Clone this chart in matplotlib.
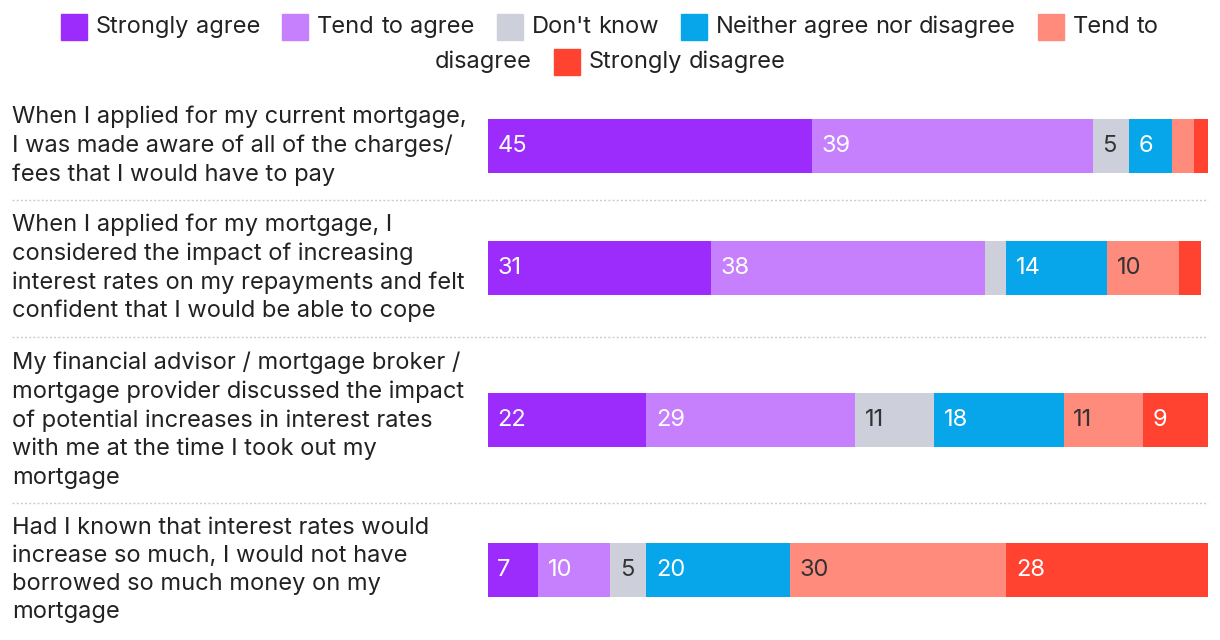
import matplotlib.pyplot as plt
from matplotlib.patches import Rectangle
from matplotlib.lines import Line2D
import numpy as np

plt.rcParams['font.family'] = ['Inter', 'DejaVu Sans']

categories = ['Strongly agree', 'Tend to agree', "Don't know",
              'Neither agree nor disagree', 'Tend to disagree', 'Strongly disagree']
colors = ['#9b2cfb', '#c67ffd', '#cdd0da', '#07a6eb', '#ff8b7d', '#ff4330']
text_colors = ['white', 'white', '#333333', 'white', '#333333', 'white']

statements = [
    'When I applied for my current mortgage,\nI was made aware of all of the charges/\nfees that I would have to pay',
    'When I applied for my mortgage, I\nconsidered the impact of increasing\ninterest rates on my repayments and felt\nconfident that I would be able to cope',
    'My financial advisor / mortgage broker /\nmortgage provider discussed the impact\nof potential increases in interest rates\nwith me at the time I took out my\nmortgage',
    'Had I known that interest rates would\nincrease so much, I would not have\nborrowed so much money on my\nmortgage',
]
strongly_agree = [45, 31, 22, 7]
tend_agree = [39, 38, 29, 10]
dont_know = [5, 3, 11, 5]
neither = [6, 14, 18, 20]
tend_disagree = [3, 10, 11, 30]
strongly_disagree = [2, 3, 9, 28]
values = np.array([strongly_agree, tend_agree, dont_know, neither,
                   tend_disagree, strongly_disagree])

W, H = 1220, 640
fig = plt.figure(figsize=(W / 100, H / 100), dpi=100)
x0, x1 = 488, 1208
ax = fig.add_axes([x0 / W, 0, (x1 - x0) / W, 1])
ax.set_xlim(0, 100)
ax.set_ylim(H, 0)
ax.axis('off')

# row centres (pixels from top) and separators
centres = [146, 268, 420, 570]
seps = [200, 337, 503]
bar_h = 54
fs = 17

left = np.zeros(len(statements))
for i, cat in enumerate(categories):
    ax.barh(centres, values[i], left=left, height=bar_h, color=colors[i], linewidth=0)
    for j, v in enumerate(values[i]):
        if v >= 5:
            ax.text(left[j] + 1.3, centres[j], str(v), va='center', ha='left',
                    fontsize=fs, color=text_colors[i])
    left += values[i]

for j, s in enumerate(statements):
    fig.text(12 / W, 1 - centres[j] / H, s, va='center', ha='left',
             fontsize=fs, color='#222222', linespacing=1.36)

for y in seps:
    fig.add_artist(Line2D([12 / W, x1 / W], [1 - y / H] * 2, color='#cccccc',
                          linestyle=(0, (1.5, 1.5)), linewidth=1))

# legend: flow layout of words with wrapping
renderer = fig.canvas.get_renderer()


def text_w(s):
    t = fig.text(0, 0, s, fontsize=fs)
    w = t.get_window_extent(renderer).width
    t.remove()
    return w


sq = 26
gap_sq = 9
gap_item = 22
space = text_w('a b') - text_w('ab')
max_w = 1110
lines = [[]]
cur = 0
for i, cat in enumerate(categories):
    words = cat.split(' ')
    first = True
    for k, wd in enumerate(words):
        ww = text_w(wd)
        need = ww + (sq + gap_sq if first else 0)
        pre = 0 if cur == 0 else (gap_item if first else space)
        if cur + pre + need > max_w and cur > 0:
            lines.append([])
            cur = 0
            pre = 0
        lines[-1].append((cur + pre, wd, i if first else None, ww))
        cur += pre + need
        first = False

line_y = [27, 62]
for li, items in enumerate(lines):
    last = items[-1]
    total = last[0] + last[3] + (sq + gap_sq if last[2] is not None else 0)
    start = (W - total) / 2
    y = line_y[li]
    for pos, wd, ci, ww in items:
        x = start + pos
        if ci is not None:
            fig.add_artist(Rectangle((x / W, 1 - (y + sq / 2) / H), sq / W, sq / H,
                                     color=colors[ci], transform=fig.transFigure))
            x += sq + gap_sq
        fig.text(x / W, 1 - y / H, wd, va='center', ha='left', fontsize=fs,
                 color='#222222')

fig.savefig('out.png', dpi=100)
